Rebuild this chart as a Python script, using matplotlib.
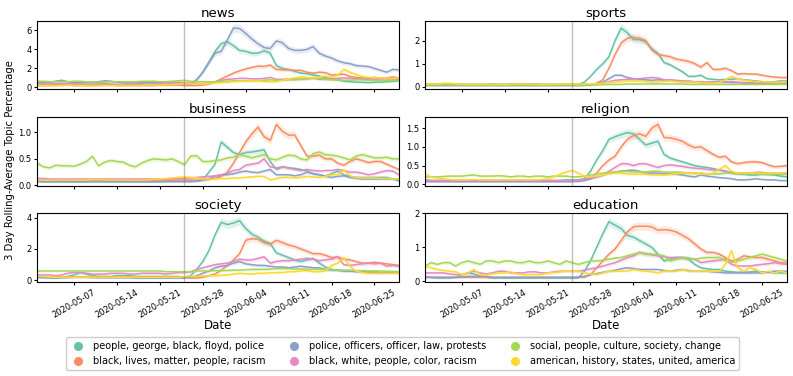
import numpy as np
import pandas as pd
import matplotlib
matplotlib.use('Agg')
import matplotlib.pyplot as plt
import matplotlib.dates as mdates
from matplotlib.lines import Line2D

dates = pd.date_range("2020-05-01", "2020-06-29", freq="D")
event_date = pd.Timestamp("2020-05-25")

topics = ["people, george, black, floyd, police",
          "black, lives, matter, people, racism",
          "police, officers, officer, law, protests",
          "black, white, people, color, racism",
          "social, people, culture, society, change",
          "american, history, states, united, america"]
colors = ["#66c2a5", "#fc8d62", "#8da0cb", "#e78ac3", "#a6d854", "#ffd92f"]

# --- news ---
news_floyd = [0.35,0.3,0.3,0.35,0.4,0.4,0.35,0.3,0.3,0.3,0.35,0.35,0.3,0.3,0.3,0.3,0.35,0.35,0.3,0.3,0.35,0.4,0.45,0.5,0.45,
              0.4,0.8,1.6,2.7,3.8,4.6,4.8,4.4,3.9,3.8,3.6,3.6,3.85,3.6,2.3,2.0,1.9,1.7,1.5,1.45,1.3,1.2,1.0,0.9,0.8,0.65,0.6,0.55,0.55,0.5,0.55,0.55,0.6,0.65,0.7]
news_blm = [0.2,0.2,0.2,0.2,0.25,0.25,0.2,0.2,0.2,0.2,0.2,0.25,0.25,0.2,0.2,0.2,0.2,0.2,0.2,0.2,0.25,0.25,0.25,0.25,0.2,
            0.2,0.2,0.25,0.35,0.55,0.9,1.2,1.5,1.75,1.95,2.1,2.25,2.2,2.35,1.9,1.85,1.85,1.8,1.8,1.6,1.5,1.6,1.55,1.3,1.35,1.4,1.15,1.05,1.0,0.95,1.05,0.95,1.0,1.1,1.0]
news_police = [0.5,0.5,0.55,0.65,0.75,0.6,0.5,0.5,0.5,0.55,0.6,0.7,0.65,0.55,0.5,0.45,0.5,0.5,0.5,0.5,0.5,0.55,0.5,0.45,0.4,
               0.35,0.8,1.6,2.6,3.6,3.8,5.0,6.25,6.2,5.7,5.1,4.6,4.2,4.1,4.9,4.7,4.1,3.9,3.9,4.0,4.3,3.6,3.3,3.1,2.8,2.6,2.5,2.3,2.25,2.2,2.0,1.8,1.6,1.9,1.85]
news_color = [0.35,0.35,0.35,0.4,0.4,0.4,0.35,0.35,0.3,0.35,0.35,0.35,0.35,0.3,0.3,0.35,0.35,0.35,0.3,0.35,0.4,0.45,0.5,0.55,0.5,
              0.45,0.4,0.4,0.45,0.6,0.75,0.85,0.9,0.95,0.95,0.9,0.9,0.95,1.05,0.85,0.85,0.9,0.9,0.85,0.9,1.0,0.85,0.85,0.9,0.95,1.0,0.95,0.9,0.9,0.85,0.85,0.9,0.9,0.85,0.85]
news_culture = [0.65,0.65,0.6,0.6,0.6,0.6,0.65,0.65,0.6,0.55,0.55,0.55,0.6,0.6,0.6,0.6,0.6,0.65,0.65,0.65,0.6,0.6,0.65,0.7,0.75,
                0.65,0.6,0.6,0.6,0.6,0.65,0.65,0.7,0.7,0.7,0.7,0.7,0.75,0.8,0.75,0.75,0.8,0.8,0.85,0.9,0.95,0.95,0.85,0.8,0.8,0.75,0.75,0.8,0.8,0.75,0.75,0.7,0.7,0.75,0.75]
news_history = [0.2,0.2,0.2,0.2,0.2,0.25,0.2,0.2,0.2,0.2,0.2,0.2,0.2,0.2,0.2,0.2,0.2,0.2,0.25,0.25,0.25,0.3,0.3,0.35,0.4,
                0.4,0.35,0.35,0.4,0.45,0.5,0.55,0.6,0.65,0.65,0.7,0.7,0.6,0.6,0.6,0.75,0.9,1.0,1.1,1.05,1.0,1.1,1.2,1.05,1.3,1.9,1.6,1.35,1.15,1.05,1.05,1.0,0.95,0.95,1.0]

# --- sports ---
sports_floyd = [0.1,0.1,0.1,0.1,0.1,0.1,0.1,0.1,0.1,0.1,0.1,0.12,0.1,0.1,0.1,0.1,0.1,0.1,0.1,0.1,0.1,0.1,0.1,0.1,0.1,
                0.1,0.2,0.45,0.75,1.0,1.3,2.0,2.55,2.35,2.05,2.05,1.95,1.65,1.45,1.05,0.95,0.8,0.65,0.45,0.45,0.5,0.35,0.32,0.3,0.32,0.32,0.35,0.3,0.28,0.25,0.22,0.2,0.22,0.25,0.25]
sports_blm = [0.08,0.08,0.08,0.08,0.08,0.08,0.08,0.08,0.08,0.08,0.08,0.08,0.08,0.08,0.08,0.08,0.08,0.08,0.08,0.08,0.08,0.08,0.08,0.08,0.08,
              0.08,0.08,0.08,0.15,0.3,0.8,1.4,1.9,2.1,2.15,2.1,2.0,1.6,1.4,1.35,1.3,1.2,1.15,1.1,1.0,0.85,1.05,0.75,0.75,0.8,0.7,0.55,0.57,0.55,0.55,0.5,0.45,0.42,0.4,0.4]
sports_police = [0.05,0.05,0.05,0.05,0.05,0.05,0.05,0.05,0.05,0.05,0.05,0.05,0.05,0.05,0.05,0.05,0.05,0.05,0.05,0.05,0.05,0.05,0.05,0.05,0.05,
                 0.05,0.06,0.08,0.12,0.2,0.35,0.5,0.5,0.4,0.35,0.32,0.3,0.28,0.3,0.3,0.28,0.25,0.22,0.2,0.2,0.18,0.18,0.2,0.22,0.2,0.18,0.18,0.16,0.15,0.15,0.16,0.15,0.15,0.15,0.15]
sports_color = [0.1,0.1,0.1,0.1,0.1,0.1,0.1,0.1,0.1,0.1,0.1,0.1,0.1,0.1,0.12,0.13,0.13,0.12,0.12,0.1,0.1,0.1,0.1,0.1,0.1,
                0.1,0.1,0.1,0.12,0.15,0.22,0.28,0.3,0.32,0.33,0.35,0.38,0.4,0.38,0.3,0.3,0.28,0.25,0.25,0.22,0.22,0.2,0.2,0.2,0.2,0.22,0.2,0.18,0.18,0.17,0.16,0.15,0.15,0.15,0.15]
sports_culture = [0.07,0.07,0.07,0.07,0.07,0.07,0.07,0.07,0.07,0.07,0.07,0.07,0.07,0.07,0.07,0.07,0.07,0.07,0.07,0.07,0.07,0.07,0.07,0.07,0.07,
                  0.07,0.07,0.08,0.08,0.09,0.1,0.1,0.1,0.12,0.12,0.12,0.12,0.12,0.12,0.12,0.12,0.12,0.12,0.1,0.1,0.1,0.1,0.1,0.1,0.1,0.1,0.1,0.1,0.1,0.1,0.1,0.1,0.1,0.1,0.1]
sports_history = [0.12,0.12,0.12,0.15,0.15,0.12,0.1,0.1,0.1,0.1,0.1,0.1,0.1,0.1,0.1,0.12,0.12,0.12,0.1,0.1,0.1,0.1,0.12,0.12,0.12,
                  0.12,0.12,0.12,0.13,0.15,0.18,0.2,0.22,0.25,0.25,0.25,0.22,0.2,0.2,0.22,0.25,0.22,0.2,0.2,0.2,0.18,0.15,0.15,0.18,0.3,0.45,0.35,0.28,0.25,0.22,0.22,0.2,0.2,0.2,0.22]

# --- business ---
business_floyd = [0.08,0.07,0.07,0.07,0.07,0.07,0.07,0.07,0.07,0.08,0.08,0.07,0.07,0.07,0.07,0.07,0.07,0.07,0.07,0.07,0.07,0.08,0.08,0.08,0.08,
                  0.08,0.08,0.1,0.25,0.4,0.82,0.72,0.62,0.58,0.62,0.63,0.65,0.67,0.45,0.3,0.35,0.33,0.32,0.3,0.27,0.22,0.2,0.18,0.22,0.27,0.2,0.17,0.15,0.15,0.15,0.15,0.15,0.15,0.12,0.08]
business_blm = [0.1,0.1,0.1,0.09,0.09,0.09,0.08,0.08,0.08,0.08,0.08,0.09,0.09,0.09,0.09,0.1,0.1,0.1,0.1,0.1,0.1,0.1,0.1,0.1,0.1,
                0.1,0.1,0.1,0.11,0.13,0.17,0.25,0.42,0.62,0.82,0.97,1.1,0.92,0.85,1.15,1.02,0.95,0.95,0.75,0.55,0.55,0.57,0.5,0.5,0.42,0.38,0.45,0.5,0.47,0.43,0.45,0.45,0.4,0.35,0.3]
business_police = [0.07,0.07,0.07,0.07,0.07,0.07,0.07,0.07,0.07,0.07,0.07,0.07,0.07,0.07,0.07,0.07,0.07,0.07,0.07,0.07,0.07,0.07,0.07,0.07,0.07,
                   0.07,0.08,0.1,0.13,0.17,0.2,0.2,0.22,0.25,0.27,0.25,0.24,0.27,0.3,0.2,0.2,0.2,0.18,0.2,0.25,0.22,0.2,0.17,0.15,0.17,0.18,0.15,0.13,0.12,0.12,0.12,0.12,0.12,0.12,0.12]
business_color = [0.13,0.13,0.12,0.12,0.12,0.12,0.12,0.12,0.12,0.12,0.12,0.12,0.12,0.12,0.12,0.12,0.12,0.12,0.12,0.12,0.12,0.12,0.13,0.13,0.13,
                  0.14,0.15,0.16,0.17,0.18,0.2,0.23,0.28,0.3,0.38,0.4,0.42,0.5,0.35,0.33,0.35,0.33,0.3,0.28,0.3,0.28,0.27,0.28,0.28,0.3,0.28,0.25,0.25,0.23,0.2,0.22,0.25,0.28,0.27,0.2]
business_culture = [0.42,0.35,0.33,0.38,0.37,0.37,0.36,0.4,0.45,0.55,0.37,0.44,0.47,0.45,0.44,0.38,0.35,0.42,0.47,0.5,0.49,0.48,0.5,0.45,0.39,
                    0.55,0.56,0.45,0.45,0.47,0.48,0.52,0.53,0.58,0.55,0.52,0.55,0.58,0.5,0.48,0.53,0.57,0.56,0.5,0.48,0.6,0.63,0.58,0.57,0.55,0.52,0.48,0.55,0.58,0.55,0.52,0.52,0.53,0.5,0.5]
business_history = [0.1,0.1,0.1,0.1,0.1,0.1,0.1,0.1,0.1,0.11,0.11,0.1,0.1,0.1,0.1,0.1,0.1,0.1,0.1,0.12,0.12,0.13,0.14,0.15,0.16,
                    0.15,0.14,0.12,0.12,0.12,0.13,0.13,0.14,0.14,0.15,0.16,0.17,0.17,0.1,0.13,0.15,0.15,0.14,0.15,0.17,0.16,0.15,0.17,0.2,0.2,0.29,0.18,0.14,0.14,0.14,0.14,0.13,0.13,0.12,0.12]

# --- religion ---
religion_floyd = [0.12,0.1,0.1,0.1,0.1,0.1,0.1,0.1,0.1,0.1,0.1,0.1,0.1,0.1,0.1,0.1,0.1,0.1,0.1,0.1,0.1,0.1,0.1,0.12,0.12,
                  0.12,0.15,0.35,0.65,0.9,1.2,1.27,1.33,1.38,1.35,1.2,1.05,1.1,1.15,0.8,0.7,0.65,0.6,0.55,0.5,0.47,0.45,0.42,0.38,0.36,0.3,0.28,0.27,0.25,0.25,0.27,0.26,0.25,0.22,0.2]
religion_blm = [0.12,0.1,0.1,0.1,0.1,0.1,0.1,0.1,0.1,0.1,0.1,0.1,0.1,0.1,0.1,0.1,0.1,0.1,0.1,0.1,0.1,0.1,0.1,0.1,0.1,
                0.1,0.12,0.15,0.3,0.5,0.65,0.75,1.0,1.2,1.3,1.35,1.28,1.5,1.6,1.25,1.24,1.2,1.15,1.05,0.98,1.0,0.9,0.8,0.72,0.75,0.6,0.55,0.58,0.6,0.6,0.58,0.52,0.47,0.48,0.5]
religion_police = [0.07,0.07,0.07,0.07,0.07,0.07,0.07,0.07,0.07,0.07,0.07,0.07,0.07,0.07,0.07,0.07,0.07,0.07,0.07,0.07,0.07,0.07,0.07,0.07,0.07,
                   0.08,0.1,0.15,0.2,0.25,0.3,0.33,0.35,0.37,0.38,0.35,0.3,0.3,0.3,0.28,0.28,0.27,0.25,0.22,0.2,0.25,0.22,0.2,0.18,0.17,0.15,0.12,0.12,0.13,0.15,0.13,0.12,0.12,0.1,0.1]
religion_color = [0.1,0.1,0.1,0.1,0.1,0.1,0.1,0.1,0.1,0.1,0.1,0.1,0.1,0.1,0.1,0.1,0.1,0.1,0.1,0.1,0.1,0.1,0.1,0.1,0.1,
                  0.1,0.13,0.18,0.2,0.25,0.35,0.45,0.55,0.55,0.5,0.55,0.55,0.5,0.45,0.5,0.52,0.5,0.48,0.45,0.43,0.42,0.4,0.38,0.38,0.35,0.32,0.3,0.3,0.3,0.32,0.32,0.3,0.3,0.3,0.3]
religion_culture = [0.2,0.2,0.2,0.21,0.22,0.22,0.22,0.24,0.25,0.22,0.22,0.22,0.23,0.22,0.2,0.22,0.22,0.2,0.22,0.22,0.2,0.22,0.22,0.22,0.2,
                    0.2,0.22,0.25,0.28,0.3,0.32,0.33,0.35,0.35,0.33,0.33,0.33,0.35,0.35,0.33,0.32,0.33,0.32,0.3,0.3,0.3,0.28,0.28,0.28,0.3,0.3,0.28,0.28,0.28,0.28,0.27,0.27,0.27,0.27,0.27]
religion_history = [0.28,0.2,0.17,0.15,0.13,0.12,0.12,0.12,0.13,0.12,0.12,0.12,0.12,0.12,0.12,0.12,0.12,0.12,0.12,0.13,0.15,0.2,0.27,0.33,0.37,
                    0.3,0.22,0.2,0.22,0.25,0.28,0.3,0.3,0.28,0.27,0.27,0.27,0.25,0.25,0.25,0.27,0.28,0.3,0.3,0.28,0.28,0.28,0.3,0.4,0.5,0.35,0.3,0.3,0.3,0.3,0.3,0.3,0.3,0.3,0.3]

# --- society ---
society_floyd = [0.2,0.2,0.15,0.15,0.2,0.25,0.35,0.5,0.4,0.3,0.25,0.25,0.25,0.3,0.3,0.3,0.25,0.25,0.25,0.25,0.25,0.25,0.25,0.25,0.2,
                 0.3,0.7,1.2,1.9,2.9,3.7,3.55,3.65,3.8,3.3,2.95,2.75,2.5,2.35,1.75,1.6,1.45,1.3,1.2,1.3,1.4,1.1,0.85,0.7,0.65,0.6,0.6,0.6,0.55,0.55,0.55,0.5,0.5,0.5,0.5]
society_blm = [0.25,0.25,0.2,0.2,0.2,0.2,0.2,0.2,0.2,0.2,0.2,0.2,0.2,0.2,0.2,0.2,0.2,0.2,0.2,0.2,0.2,0.2,0.2,0.2,0.2,
               0.15,0.15,0.2,0.3,0.4,0.65,0.95,1.3,1.7,2.55,2.65,2.62,2.4,2.3,2.55,2.4,2.25,2.15,2.0,1.85,1.7,1.7,1.6,1.45,1.5,1.35,1.3,1.2,1.1,1.1,1.15,1.1,1.05,1.0,0.95]
society_police = [0.18,0.18,0.17,0.17,0.17,0.18,0.2,0.2,0.2,0.18,0.17,0.17,0.17,0.17,0.17,0.17,0.15,0.15,0.15,0.15,0.15,0.15,0.15,0.15,0.15,
                  0.2,0.3,0.45,0.6,0.8,0.9,0.95,1.1,1.2,1.05,1.0,0.95,0.95,0.9,0.85,0.85,0.8,0.85,0.9,0.85,0.8,0.8,0.7,0.65,0.65,0.6,0.6,0.55,0.55,0.5,0.5,0.45,0.5,0.5,0.5]
society_color = [0.35,0.35,0.35,0.3,0.35,0.45,0.5,0.5,0.45,0.4,0.4,0.4,0.45,0.45,0.45,0.4,0.4,0.45,0.45,0.45,0.45,0.4,0.45,0.5,0.5,
                 0.55,0.7,0.8,0.9,1.0,1.05,1.1,1.2,1.35,1.3,1.3,1.4,1.5,1.1,1.2,1.25,1.25,1.3,1.35,1.4,1.35,1.25,1.3,1.35,1.5,1.0,0.95,1.0,1.05,1.1,1.05,1.1,0.9,0.95,0.9]
society_culture = [0.6,0.6,0.6,0.6,0.6,0.6,0.6,0.6,0.6,0.6,0.6,0.6,0.6,0.6,0.6,0.6,0.6,0.6,0.6,0.6,0.6,0.55,0.55,0.55,0.55,
                   0.55,0.6,0.6,0.6,0.62,0.62,0.63,0.65,0.65,0.68,0.7,0.7,0.7,0.72,0.75,0.75,0.75,0.72,0.72,0.7,0.7,0.7,0.68,0.68,0.65,0.65,0.65,0.62,0.62,0.6,0.6,0.6,0.58,0.57,0.55]
society_history = [0.25,0.25,0.2,0.2,0.2,0.2,0.2,0.2,0.2,0.2,0.2,0.2,0.2,0.2,0.2,0.2,0.2,0.2,0.2,0.2,0.2,0.2,0.2,0.2,0.25,
                   0.25,0.25,0.27,0.3,0.3,0.32,0.35,0.4,0.45,0.42,0.4,0.45,0.45,0.48,0.5,0.5,0.55,0.55,0.6,0.62,0.55,0.55,0.6,0.95,1.1,1.45,0.9,0.6,0.5,0.45,0.45,0.45,0.45,0.45,0.45]

# --- education ---
education_floyd = [0.15,0.12,0.1,0.1,0.1,0.12,0.2,0.25,0.22,0.15,0.12,0.1,0.1,0.1,0.1,0.1,0.1,0.1,0.1,0.1,0.1,0.1,0.1,0.1,0.1,
                   0.1,0.3,0.6,1.0,1.4,1.75,1.65,1.55,1.35,1.3,1.2,1.1,1.0,0.8,0.6,0.65,0.7,0.7,0.65,0.5,0.4,0.37,0.35,0.35,0.3,0.28,0.27,0.27,0.28,0.3,0.28,0.27,0.25,0.25,0.25]
education_blm = [0.12,0.12,0.12,0.12,0.12,0.12,0.12,0.12,0.12,0.12,0.12,0.12,0.12,0.12,0.12,0.12,0.12,0.12,0.12,0.12,0.12,0.12,0.12,0.12,0.12,
                 0.12,0.12,0.2,0.4,0.6,0.8,0.95,1.2,1.45,1.6,1.62,1.62,1.6,1.5,1.52,1.5,1.45,1.35,1.25,1.1,0.95,0.85,0.85,0.8,0.7,0.6,0.65,0.75,0.72,0.7,0.7,0.65,0.6,0.55,0.55]
education_police = [0.12,0.12,0.12,0.12,0.12,0.12,0.13,0.15,0.15,0.15,0.15,0.12,0.12,0.12,0.12,0.12,0.12,0.12,0.12,0.12,0.12,0.12,0.12,0.12,0.12,
                    0.13,0.15,0.2,0.23,0.27,0.3,0.33,0.37,0.4,0.38,0.35,0.35,0.35,0.35,0.32,0.3,0.33,0.35,0.32,0.3,0.3,0.3,0.28,0.27,0.25,0.25,0.25,0.25,0.25,0.25,0.25,0.28,0.3,0.3,0.3]
education_color = [0.25,0.25,0.25,0.25,0.22,0.2,0.2,0.25,0.3,0.25,0.22,0.25,0.3,0.3,0.25,0.25,0.25,0.28,0.28,0.25,0.25,0.28,0.3,0.3,0.3,
                   0.3,0.33,0.37,0.4,0.45,0.5,0.55,0.62,0.7,0.75,0.85,0.8,0.78,0.75,0.72,0.7,0.7,0.7,0.68,0.65,0.55,0.58,0.6,0.62,0.65,0.5,0.45,0.45,0.45,0.48,0.5,0.52,0.55,0.52,0.5]
education_culture = [0.45,0.55,0.5,0.55,0.55,0.45,0.55,0.6,0.55,0.5,0.6,0.6,0.55,0.6,0.6,0.55,0.55,0.6,0.55,0.55,0.6,0.55,0.5,0.6,0.55,
                     0.5,0.55,0.6,0.6,0.62,0.65,0.68,0.7,0.75,0.8,0.85,0.82,0.8,0.78,0.75,0.6,0.65,0.7,0.68,0.65,0.68,0.7,0.7,0.7,0.62,0.55,0.6,0.65,0.7,0.75,0.8,0.75,0.7,0.65,0.6]
education_history = [0.45,0.4,0.35,0.32,0.3,0.28,0.2,0.25,0.35,0.2,0.2,0.22,0.25,0.25,0.28,0.22,0.2,0.2,0.2,0.2,0.25,0.26,0.28,0.3,0.3,
                     0.3,0.25,0.22,0.2,0.25,0.3,0.3,0.3,0.3,0.35,0.32,0.3,0.28,0.25,0.3,0.3,0.3,0.35,0.3,0.3,0.3,0.3,0.3,0.3,0.5,0.9,0.4,0.3,0.4,0.35,0.25,0.3,0.25,0.3,0.25]

panels = [
    ("news", [news_floyd, news_blm, news_police, news_color, news_culture, news_history], [0, 2, 4, 6]),
    ("sports", [sports_floyd, sports_blm, sports_police, sports_color, sports_culture, sports_history], [0, 1, 2]),
    ("business", [business_floyd, business_blm, business_police, business_color, business_culture, business_history], [0.0, 0.5, 1.0]),
    ("religion", [religion_floyd, religion_blm, religion_police, religion_color, religion_culture, religion_history], [0.0, 0.5, 1.0, 1.5]),
    ("society", [society_floyd, society_blm, society_police, society_color, society_culture, society_history], [0, 2, 4]),
    ("education", [education_floyd, education_blm, education_police, education_color, education_culture, education_history], [0, 1, 2]),
]

fig, axes = plt.subplots(3, 2, figsize=(7.93, 3.76), dpi=100, sharex=True)
fig.subplots_adjust(left=0.047, right=0.992, top=0.945, bottom=0.25, hspace=0.4, wspace=0.072)

for ax, (name, series, yt) in zip(axes.flat, panels):
    peak = max(max(s) for s in series)
    for vals, c in zip(series, colors):
        v = np.array(vals)
        ci = 0.06 * v + 0.012 * peak
        ax.fill_between(dates, v - ci, v + ci, color=c, alpha=0.2, lw=0)
        ax.plot(dates, v, color=c, lw=1.1)
    ax.axvline(event_date, color="gray", alpha=0.5, lw=1.0)
    ax.set_title(name, fontsize=9.5, pad=3)
    ax.set_yticks(yt)
    ax.tick_params(labelsize=6, length=2.5, pad=1.5)
    ax.set_xlim(dates[0], dates[-1])
    ax.xaxis.set_major_locator(mdates.WeekdayLocator(byweekday=mdates.TH))
    ax.xaxis.set_major_formatter(mdates.DateFormatter("%Y-%m-%d"))

for ax in axes[-1]:
    ax.set_xlabel("Date", fontsize=8.5, labelpad=0)
    for lbl in ax.get_xticklabels():
        lbl.set_rotation(30)
        lbl.set_ha("center")

fig.text(0.012, 0.575, "3 Day Rolling-Average Topic Percentage", rotation=90,
         va="center", ha="center", fontsize=7.3)

handles = [Line2D([], [], marker="o", ls="", color=c, markersize=5.5) for c in colors]
fig.legend(handles, topics, loc="lower center", bbox_to_anchor=(0.508, 0.003), ncol=3,
           fontsize=7, handlelength=1.5, columnspacing=2.2, framealpha=1)

plt.savefig("out.png", dpi=100)
plt.close()
